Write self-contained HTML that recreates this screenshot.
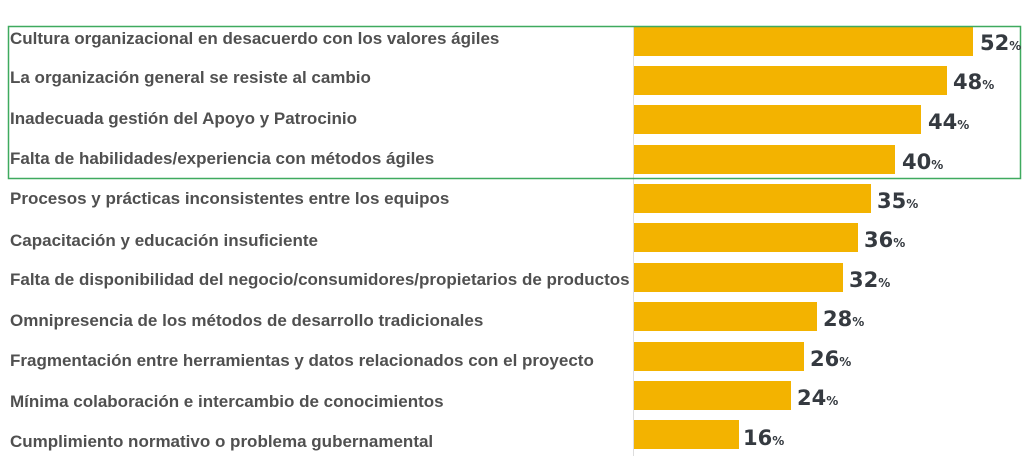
<!DOCTYPE html>
<html><head><meta charset="utf-8"><style>
html,body{margin:0;padding:0;background:#fff;}
svg{display:block;}
.l{font-family:"Liberation Sans",sans-serif;font-weight:bold;font-size:17px;fill:#505050;}
.v{font-family:"DejaVu Sans","Liberation Sans",sans-serif;font-size:21px;font-weight:bold;fill:#353a40;}
.p{font-size:12px;}
</style></head><body>
<svg width="1024" height="467" viewBox="0 0 1024 467">
<line x1="633.5" y1="26" x2="633.5" y2="456" stroke="#ddd" stroke-width="1"/>
<g fill="#f3b300">
<rect x="634" y="27" width="339" height="29"/>
<rect x="634" y="66" width="313" height="29"/>
<rect x="634" y="105" width="287" height="29"/>
<rect x="634" y="145" width="261" height="29"/>
<rect x="634" y="184" width="237" height="29"/>
<rect x="634" y="223" width="224" height="29"/>
<rect x="634" y="263" width="209" height="29"/>
<rect x="634" y="302" width="183" height="29"/>
<rect x="634" y="342" width="170" height="29"/>
<rect x="634" y="381" width="157" height="29"/>
<rect x="634" y="420" width="105" height="29"/>
</g>
<rect x="8.5" y="26.5" width="1012" height="152" fill="none" stroke="#3faa5f" stroke-width="1.5"/>
<g class="l">
<text x="10" y="44">Cultura organizacional en desacuerdo con los valores ágiles</text>
<text x="10" y="83">La organización general se resiste al cambio</text>
<text x="10" y="124">Inadecuada gestión del Apoyo y Patrocinio</text>
<text x="10" y="164">Falta de habilidades/experiencia con métodos ágiles</text>
<text x="10" y="204">Procesos y prácticas inconsistentes entre los equipos</text>
<text x="10" y="246">Capacitación y educación insuficiente</text>
<text x="10" y="285">Falta de disponibilidad del negocio/consumidores/propietarios de productos</text>
<text x="10" y="326">Omnipresencia de los métodos de desarrollo tradicionales</text>
<text x="10" y="366">Fragmentación entre herramientas y datos relacionados con el proyecto</text>
<text x="10" y="407">Mínima colaboración e intercambio de conocimientos</text>
<text x="10" y="447">Cumplimiento normativo o problema gubernamental</text>
</g>
<g class="v">
<text x="980" y="50">52<tspan class="p">%</tspan></text>
<text x="953" y="89">48<tspan class="p">%</tspan></text>
<text x="928" y="129">44<tspan class="p">%</tspan></text>
<text x="902" y="169">40<tspan class="p">%</tspan></text>
<text x="877" y="208">35<tspan class="p">%</tspan></text>
<text x="864" y="247">36<tspan class="p">%</tspan></text>
<text x="849" y="287">32<tspan class="p">%</tspan></text>
<text x="823" y="326">28<tspan class="p">%</tspan></text>
<text x="810" y="366">26<tspan class="p">%</tspan></text>
<text x="797" y="405">24<tspan class="p">%</tspan></text>
<text x="743" y="445">16<tspan class="p">%</tspan></text>
</g>
</svg>
</body></html>
